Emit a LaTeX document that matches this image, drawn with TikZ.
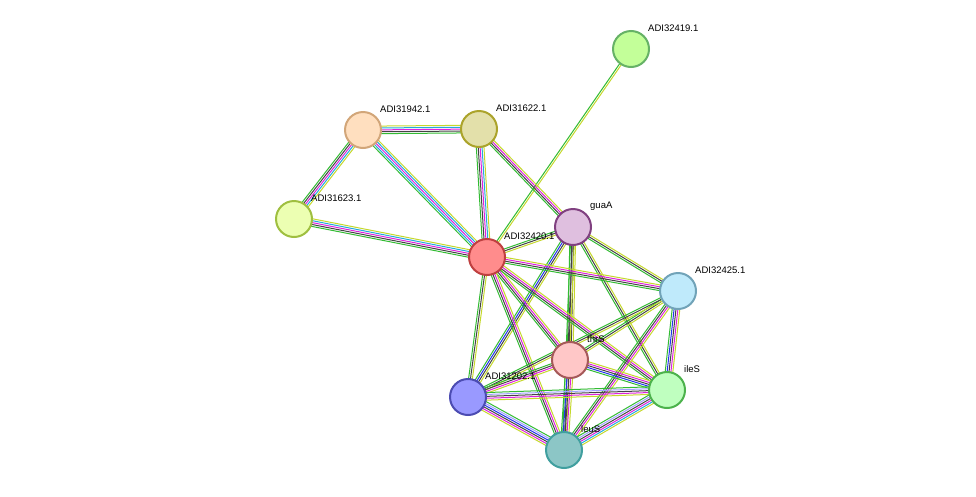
\documentclass[tikz,border=0pt]{standalone}
\usepackage{fontspec}
\setmainfont{Liberation Sans}
\usetikzlibrary{calc}
\definecolor{eg}{HTML}{33BB33}
\definecolor{ey}{HTML}{C5D82C}
\definecolor{ek}{HTML}{444444}
\definecolor{em}{HTML}{DD22DD}
\definecolor{ec}{HTML}{22AADD}
\definecolor{eb}{HTML}{2233EE}
\definecolor{el}{HTML}{A0A0FF}
\newcommand\medge[4]{%
  \foreach \cc [count=\i] in {#4} {%
    \pgfmathsetmacro\off{(\i-(#3+1)/2)*1.9}%
    \draw[\cc, line width=1pt] ($(#1)!\off pt!90:(#2)$) -- ($(#2)!\off pt!-90:(#1)$);
  }}
\tikzset{pn/.style={circle, minimum size=36pt, line width=2pt, inner sep=0pt},
  lb/.style={anchor=west, font=\fontsize{9.5}{11}\selectfont, inner sep=0pt}}
\newcommand\pnode[6]{%
  \node[pn, fill=#4, draw=#5] (#1) at (#2,#3) {};
  \node[lb] (#1l) at (#2+17,#3-21) {#6};}
\begin{document}
\begin{tikzpicture}[x=1pt,y=-1pt]
\useasboundingbox (0,0) rectangle (976,496);
\coordinate (p419) at (631,49);
\coordinate (p942) at (363,130);
\coordinate (p622) at (479,129);
\coordinate (p623) at (294,219);
\coordinate (pgua) at (573,227);
\coordinate (p420) at (487,257);
\coordinate (p425) at (678,291);
\coordinate (pthr) at (570,360);
\coordinate (pile) at (667,390);
\coordinate (p202) at (468,397);
\coordinate (pleu) at (564,450);
\medge{p419}{p420}{2}{eg,ey}
\medge{p942}{p622}{5}{eg,ek,em,ec,ey}
\medge{p942}{p623}{5}{eg,ek,em,ec,ey}
\medge{p942}{p420}{5}{eg,ec,em,ec,ey}
\medge{p622}{p420}{5}{eg,ek,em,ec,ey}
\medge{p622}{pgua}{4}{eg,ek,em,ey}
\medge{p623}{p420}{5}{eg,ek,em,ec,ey}
\medge{pgua}{p420}{3}{eg,ek,ey}
\medge{pgua}{p425}{3}{eg,ek,ey}
\medge{pgua}{pthr}{4}{eg,ek,ek,ey}
\medge{pgua}{pile}{3}{eg,ek,ey}
\medge{pgua}{pleu}{3}{eg,ek,ey}
\medge{pgua}{p202}{4}{eg,eb,ek,ey}
\medge{p420}{p425}{4}{eg,ek,em,ey}
\medge{p420}{pthr}{4}{eg,ek,em,ey}
\medge{p420}{pile}{4}{eg,ek,em,ey}
\medge{p420}{pleu}{4}{eg,ek,em,ey}
\medge{p420}{p202}{3}{eg,ek,ey}
\medge{p425}{pthr}{3}{eg,ek,ey}
\medge{p425}{pile}{5}{eg,eb,ek,em,ey}
\medge{p425}{pleu}{4}{eg,ek,em,ey}
\medge{p425}{p202}{3}{eg,ek,ey}
\medge{pthr}{pile}{5}{eg,eb,ek,em,ey}
\medge{pthr}{pleu}{5}{eg,eb,ek,em,ey}
\medge{pthr}{p202}{4}{eg,ek,em,ey}
\medge{pile}{pleu}{6}{eg,el,ek,em,ec,ey}
\medge{pile}{p202}{5}{eg,el,ek,em,ey}
\medge{pleu}{p202}{6}{eg,el,eb,ek,em,ey}
\pnode{n419}{631}{49}{green!45!lime!40!white}{green!50!black!60}{ADI32419.1}
\pnode{n942}{363}{130}{orange!25}{brown!70!white}{ADI31942.1}
\pnode{n622}{479}{129}{yellow!50!gray!50!white}{olive!75}{ADI31622.1}
\pnode{n623}{294}{219}{lime!30!white}{lime!50!gray}{ADI31623.1}
\pnode{n420}{487}{257}{red!45!white}{red!50!gray}{ADI32420.1}
\pnode{ngua}{573}{227}{violet!25!white}{violet!50!gray}{guaA}
\pnode{n425}{678}{291}{cyan!25!white}{cyan!40!gray}{ADI32425.1}
\pnode{nthr}{570}{360}{red!22!white}{red!30!gray}{thrS}
\pnode{nile}{667}{390}{green!25!white}{green!40!gray}{ileS}
\pnode{n202}{468}{397}{blue!40!white}{blue!40!gray}{ADI31202.1}
\pnode{nleu}{564}{450}{teal!45!white}{teal!75}{leuS}
\end{tikzpicture}
\end{document}
